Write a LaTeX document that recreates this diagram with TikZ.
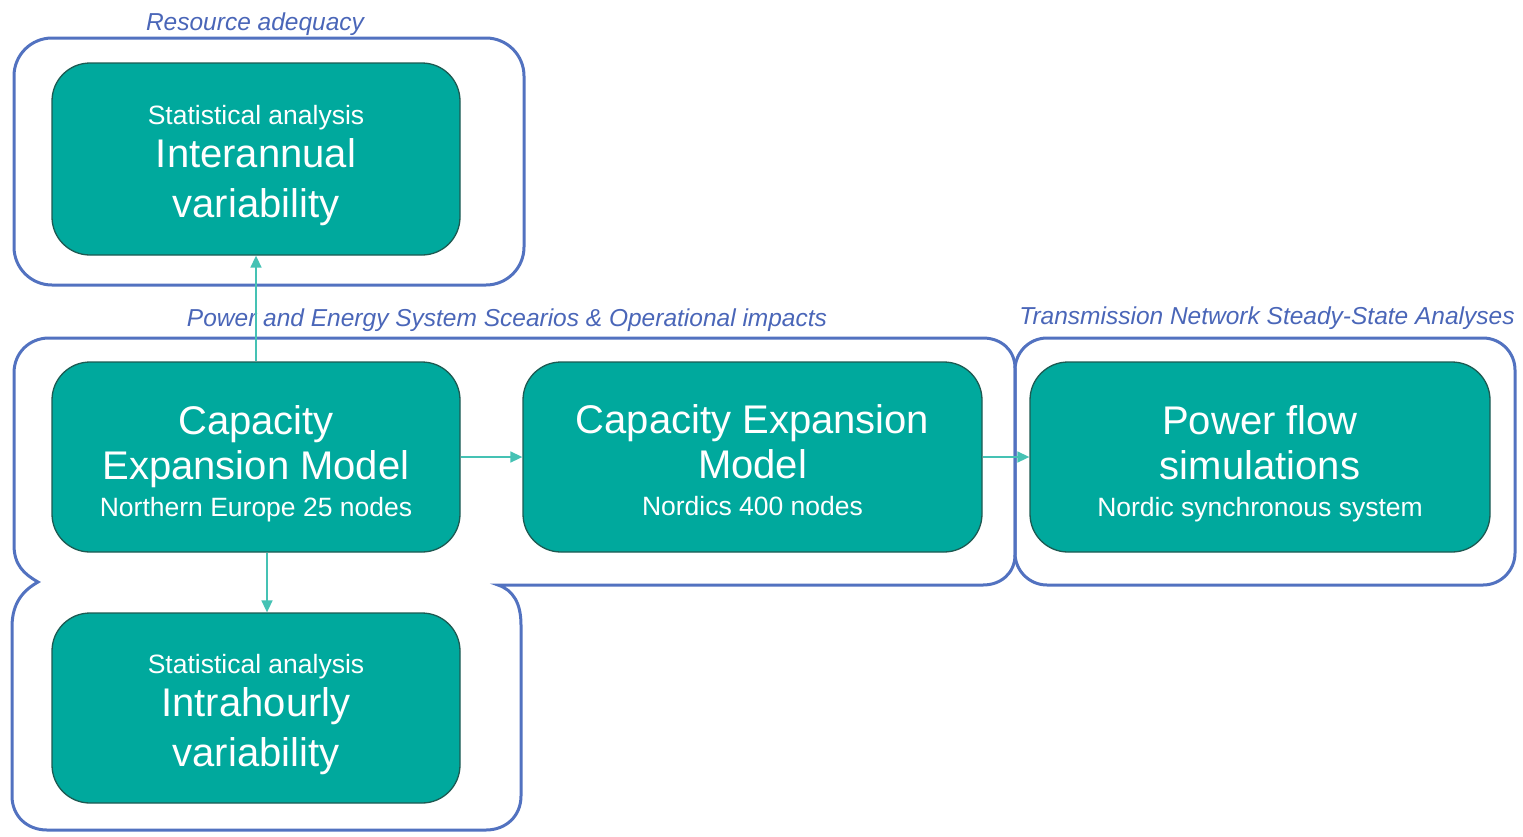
\documentclass[tikz,border=0pt]{standalone}
\usepackage{fontspec}
\setmainfont{Liberation Sans}
\usetikzlibrary{arrows.meta}
\definecolor{boxfill}{HTML}{00A99D}
\definecolor{boxedge}{HTML}{1D5A52}
\definecolor{outblue}{HTML}{5272C0}
\definecolor{labblue}{HTML}{4A66B8}
\definecolor{arrteal}{HTML}{45C2B4}
\tikzset{
  box/.style={draw=boxedge, line width=1.3pt, fill=boxfill, rounded corners=38pt,
    text=white, align=center, minimum height=190pt, inner sep=0pt,
    font=\fontsize{40}{45}\selectfont},
  outl/.style={draw=outblue, line width=3pt},
  grp/.style={text=labblue, font=\fontsize{24.5}{28}\selectfont\itshape, inner sep=0pt},
  arr/.style={draw=arrteal, line width=1.6pt, -{Triangle[length=12pt,width=11pt]}}
}
\newcommand{\sm}[1]{{\fontsize{26.5}{30}\selectfont #1}}
\newcommand{\tstrut}[1]{\rule{0pt}{#1pt}}
\begin{document}
\begin{tikzpicture}[x=1pt,y=-1pt]
\useasboundingbox (0,0) rectangle (1523,836);
% group outlines
\draw[outl, rounded corners=38pt] (14,38) rectangle (524,285);
\draw[outl] (49,338) -- (983,338) .. controls (1001,338) and (1015,350) .. (1015,368)
  -- (1015,555) .. controls (1015,573) and (1001,585) .. (983,585)
  -- (498,585) .. controls (513,590) and (521,603) .. (521,625)
  -- (521,796) .. controls (521,816) and (506,830) .. (486,830)
  -- (47,830) .. controls (27,830) and (12,816) .. (12,796)
  -- (12,627) .. controls (12,602) and (24,590) .. (38,582)
  .. controls (24,574) and (14,565) .. (14,545)
  -- (14,373) .. controls (14,353) and (29,338) .. (49,338) -- cycle;
\draw[outl, rounded corners=32pt] (1015,338) rectangle (1515,585);
% group labels
\node[grp] (lra) at (255,24) {Resource adequacy};
\node[grp] (lpe) at (507,320) {Power and Energy System Scearios \& Operational impacts};
\node[grp] (ltn) at (1267,318) {Transmission Network Steady-State Analyses};
% boxes
\node[box, minimum width=408pt, minimum height=192pt] (inter) at (256,159)
  {\tstrut{32}\sm{Statistical analysis}\\[-2pt]Interannual\\[5pt]variability};
\node[box, minimum width=408pt] (cem1) at (256,457)
  {\tstrut{42}Capacity\\Expansion Model\\[-8pt]\sm{Northern Europe 25 nodes}};
\node[box, minimum width=459pt] (cem2) at (752.5,457)
  {\tstrut{36}Capacity Expansion\\Model\\[-8pt]\sm{Nordics 400 nodes}};
\node[box, minimum width=460pt] (pf) at (1260,457)
  {\tstrut{42}Power flow\\simulations\\[-8pt]\sm{Nordic synchronous system}};
\node[box, minimum width=408pt] (intra) at (256,708)
  {\tstrut{32}\sm{Statistical analysis}\\[-2pt]Intrahourly\\[5pt]variability};
% connectors
\draw[arr] (cem1.north) -- (inter.south);
\draw[arr] ([xshift=11pt]cem1.south) -- ([xshift=11pt]intra.north);
\draw[arr] (cem1.east) -- (cem2.west);
\draw[arr] (cem2.east) -- (pf.west);
\end{tikzpicture}
\end{document}
